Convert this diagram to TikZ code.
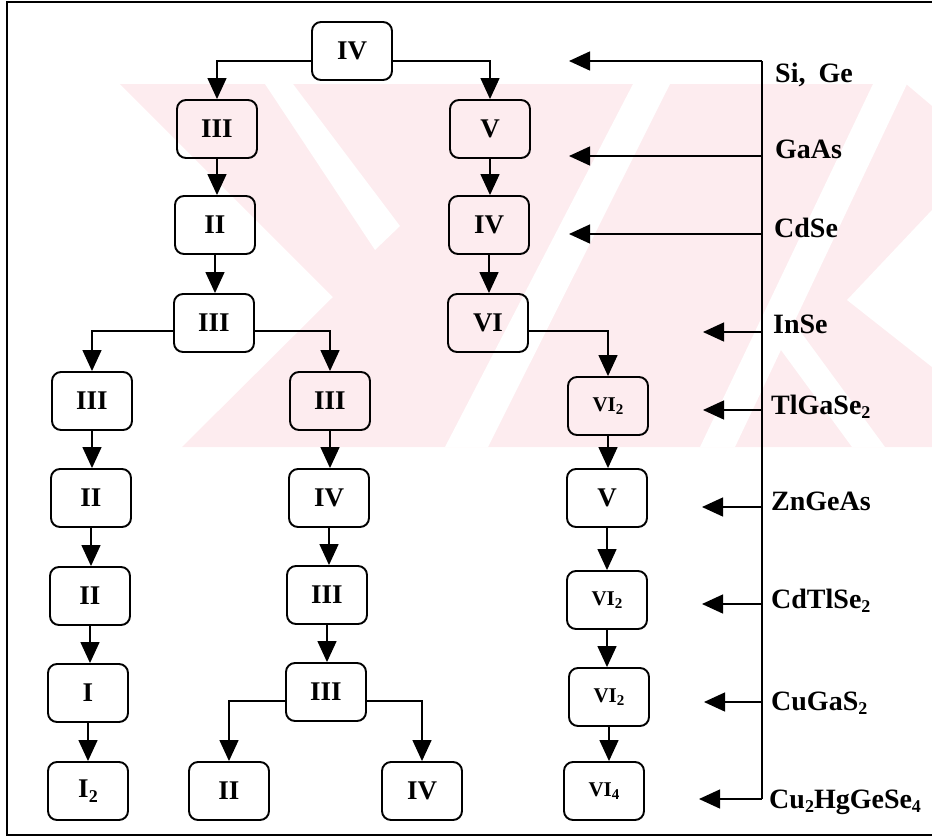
\documentclass[tikz,border=0pt]{standalone}
\usepackage{fontspec}
\setmainfont{Liberation Serif}
\usetikzlibrary{arrows.meta}
\newcommand\lowsub[2][18]{\raisebox{-0.35ex}{\fontsize{#1}{#1}\selectfont #2}}
\definecolor{wm}{RGB}{253,236,239}
\tikzset{
  box/.style={draw, line width=1.9pt, rounded corners=9pt, minimum width=80pt,
    minimum height=58pt, inner sep=0pt, font=\fontsize{27}{30}\selectfont\bfseries},
  smallnum/.style={font=\fontsize{21}{22}\selectfont\bfseries},
  arr/.style={line width=1.4pt, -{Triangle[width=19pt,length=21pt]}},
  spine/.style={line width=1.4pt},
  lbl/.style={anchor=base west, inner sep=0pt, font=\fontsize{28}{30}\selectfont\bfseries},
  frame/.style={line width=1.5pt},
}
\begin{document}
\begin{tikzpicture}[x=1pt,y=-1pt]
\useasboundingbox (0,0) rectangle (932,839);
% faint watermark
\fill[wm] (120,84) -- (906,84) -- (932,106) -- (932,447) -- (182,447) -- (333,297) -- cycle;
\fill[white] (265,84) -- (293,84) -- (400,226) -- (375,250) -- cycle;
\fill[white] (633,84) -- (670,84) -- (488,447) -- (445,447) -- cycle;
\fill[white] (873,84) -- (907,84) -- (735,447) -- (700,447) -- cycle;
\fill[white] (770,335) -- (792,320) -- (885,447) -- (852,447) -- cycle;
\fill[white] (932,210) -- (847,300) -- (932,367) -- cycle;
% frame
\draw[frame] (940,2) -- (7,2) -- (7,835) -- (940,835);
% nodes
\node[box] (n1) at (352,51) {IV};
\node[box] (a1) at (217,129) {III};
\node[box] (b1) at (490,129) {V};
\node[box] (a2) at (215,225) {II};
\node[box] (b2) at (489,225) {IV};
\node[box] (a3) at (214,323) {III};
\node[box] (b3) at (488,323) {VI};
\node[box] (l4) at (92,401) {III};
\node[box] (m4) at (330,401) {III};
\node[box,smallnum] (r4) at (608,406) {VI\lowsub[15]{2}};
\node[box] (l5) at (91,498) {II};
\node[box] (m5) at (329,498) {IV};
\node[box] (r5) at (607,498) {V};
\node[box] (l6) at (90,596) {II};
\node[box] (m6) at (327,595) {III};
\node[box,smallnum] (r6) at (607,600) {VI\lowsub[15]{2}};
\node[box] (l7) at (88,693) {I};
\node[box] (m7) at (326,692) {III};
\node[box,smallnum] (r7) at (609,697) {VI\lowsub[15]{2}};
\node[box] (l8) at (88,791) {I\lowsub{2}};
\node[box] (m8a) at (229,791) {II};
\node[box] (m8b) at (422,791) {IV};
\node[box,smallnum] (r8) at (604,791) {VI\lowsub[15]{4}};
% tree connectors
\draw[arr] ([yshift=-10pt]n1.west) -| (a1.north);
\draw[arr] ([yshift=-10pt]n1.east) -| (b1.north);
\draw[arr] (a1.south) -- (a1.south |- a2.north);
\draw[arr] (a2.south) -- (a2.south |- a3.north);
\draw[arr] (b1.south) -- (b1.south |- b2.north);
\draw[arr] (b2.south) -- (b2.south |- b3.north);
\draw[arr] ([yshift=-8pt]a3.west) -| (l4.north);
\draw[arr] ([yshift=-8pt]a3.east) -| (m4.north);
\draw[arr] ([yshift=-8pt]b3.east) -| (r4.north);
\draw[arr] (l4.south) -- (l4.south |- l5.north);
\draw[arr] (l5.south) -- (l5.south |- l6.north);
\draw[arr] (l6.south) -- (l6.south |- l7.north);
\draw[arr] (l7.south) -- (l7.south |- l8.north);
\draw[arr] (m4.south) -- (m4.south |- m5.north);
\draw[arr] (m5.south) -- (m5.south |- m6.north);
\draw[arr] (m6.south) -- (m6.south |- m7.north);
\draw[arr] ([yshift=-9pt]m7.west) -| (m8a.north);
\draw[arr] ([yshift=-9pt]m7.east) -| (m8b.north);
\draw[arr] (r4.south) -- (r4.south |- r5.north);
\draw[arr] (r5.south) -- (r5.south |- r6.north);
\draw[arr] (r6.south) -- (r6.south |- r7.north);
\draw[arr] (r7.south) -- (r7.south |- r8.north);
% right spine
\coordinate (s1) at (762,61);  \coordinate (t1) at (569,61);
\coordinate (s2) at (762,156); \coordinate (t2) at (569,156);
\coordinate (s3) at (762,234); \coordinate (t3) at (569,234);
\coordinate (s4) at (762,332); \coordinate (t4) at (703,332);
\coordinate (s5) at (762,410); \coordinate (t5) at (703,410);
\coordinate (s6) at (762,507); \coordinate (t6) at (702,507);
\coordinate (s7) at (762,604); \coordinate (t7) at (702,604);
\coordinate (s8) at (762,702); \coordinate (t8) at (704,702);
\coordinate (s9) at (762,799); \coordinate (t9) at (699,799);
\draw[spine] (s1) -- (s9);
\foreach \i in {1,...,9} { \draw[arr] (s\i) -- (t\i); }
% labels
\node[lbl] (L1) at (775,82) {Si,\hspace{13pt}Ge};
\node[lbl] (L2) at (775,158) {GaAs};
\node[lbl] (L3) at (774,237) {CdSe};
\node[lbl] (L4) at (773,333) {InSe};
\node[lbl] (L5) at (771,414) {TlGaSe\lowsub{2}};
\node[lbl] (L6) at (771,510) {ZnGeAs};
\node[lbl] (L7) at (771,608) {CdTlSe\lowsub{2}};
\node[lbl] (L8) at (771,710) {CuGaS\lowsub{2}};
\node[lbl] (L9) at (769,808) {Cu\lowsub{2}HgGeSe\lowsub{4}};
\end{tikzpicture}
\end{document}
